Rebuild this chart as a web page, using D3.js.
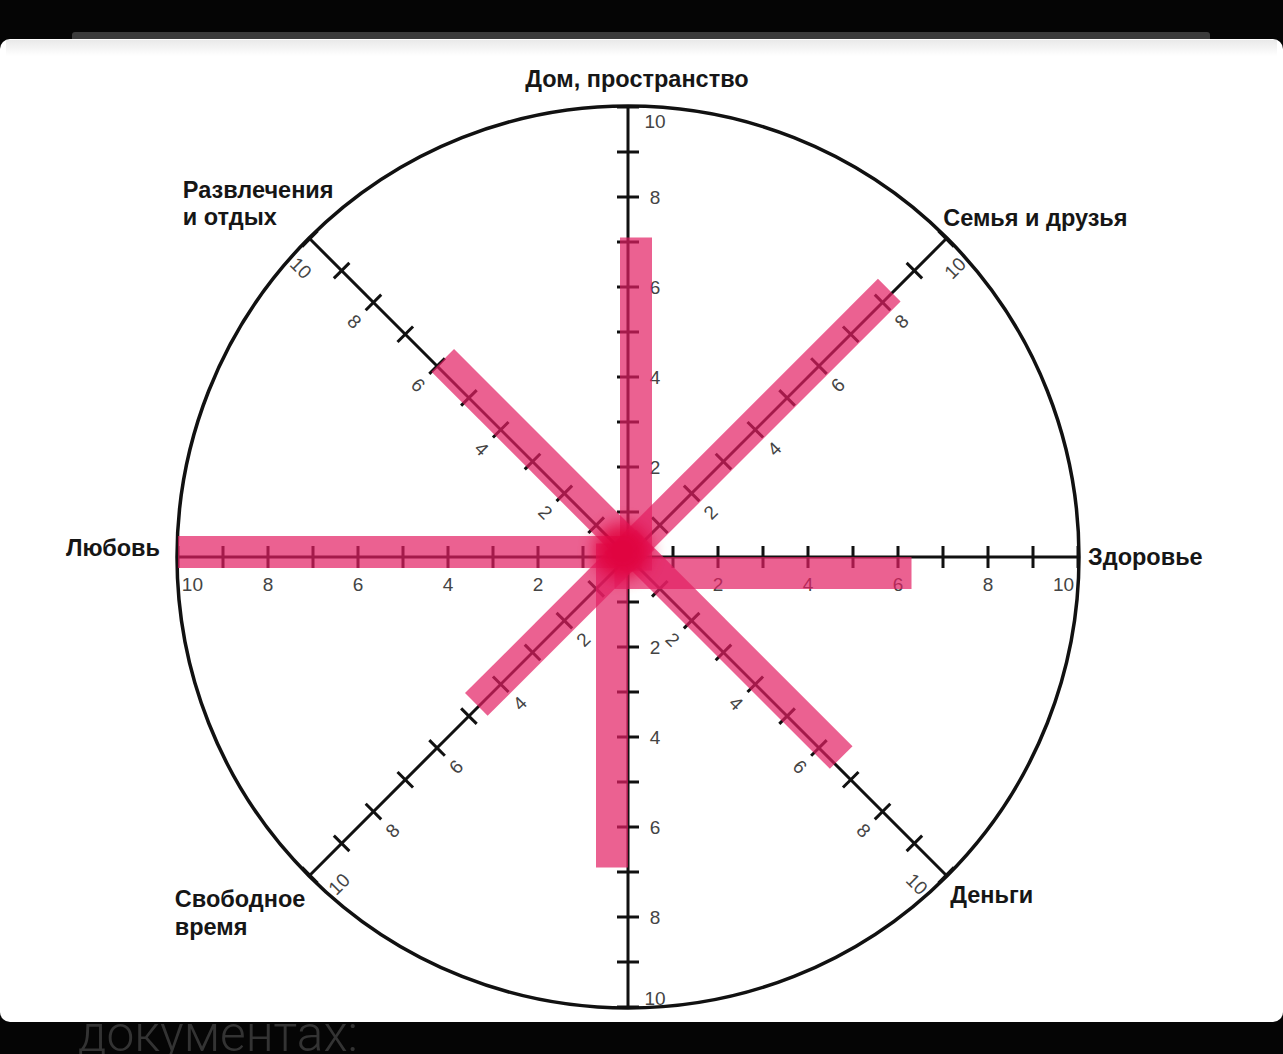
<!DOCTYPE html>
<html><head><meta charset="utf-8">
<script src="https://cdn.jsdelivr.net/npm/d3@7/dist/d3.min.js"></script>
<style>html,body{margin:0;padding:0;background:#000;overflow:hidden}</style>
</head><body>
<svg id="chart" width="1283" height="1054"></svg>
<script>
// ---- data ----
const categories = ["Дом, пространство", "Семья и друзья", "Здоровье", "Деньги", "", "Свободное\nвремя", "Любовь", "Развлечения\nи отдых"];
const values = [7.1, 8.3, 6.3, 6.5, 6.9, 4.7, 10, 6.0];
const tickLabels = ["2", "4", "6", "8", "10"];
const footerText = "документах:";

// ---- layout ----
const W = 1283, H = 1054, cx = 628, cy = 557;
const svg = d3.select("#chart");
const r = d3.scaleLinear().domain([0, 10]).range([0, 450]);
const angle = d3.scaleLinear().domain([0, categories.length]).range([0, 2 * Math.PI]);

function pt(i, v, off) {
  const a = angle(i), ux = Math.sin(a), uy = -Math.cos(a);
  const px = -uy, py = ux;
  off = off || 0;
  return [cx + ux * r(v) + px * off, cy + uy * r(v) + py * off];
}

// background card
const defs = svg.append("defs");
const g1 = defs.append("linearGradient").attr("id", "topShade").attr("x1", 0).attr("x2", 0).attr("y1", 0).attr("y2", 1);
g1.append("stop").attr("offset", 0).attr("stop-color", "#e9e9e9");
g1.append("stop").attr("offset", 1).attr("stop-color", "#ffffff");
defs.append("filter").attr("id", "blur").attr("x", "-100%").attr("y", "-100%").attr("width", "300%").attr("height", "300%")
  .append("feGaussianBlur").attr("stdDeviation", 8);

svg.append("rect").attr("x", 0).attr("y", 0).attr("width", W).attr("height", H).attr("fill", "#050505");
svg.append("rect").attr("x", 72).attr("y", 32).attr("width", 1138).attr("height", 12).attr("rx", 3).attr("fill", "#3b3b3b");
svg.append("rect").attr("x", 0).attr("y", 39).attr("width", W).attr("height", 983).attr("rx", 10).attr("fill", "#ffffff");
svg.append("rect").attr("x", 6).attr("y", 40).attr("width", W - 12).attr("height", 16).attr("fill", "url(#topShade)");

svg.append("text").attr("x", 78).attr("y", 1051).text(footerText)
  .attr("font-family", "Roboto, 'Liberation Sans', sans-serif").attr("font-weight", 300)
  .attr("font-size", 50).attr("fill", "#333333")
  .attr("textLength", 280).attr("lengthAdjust", "spacingAndGlyphs");

const chart = svg.append("g");

// outer circle
chart.append("circle").attr("cx", cx).attr("cy", cy).attr("r", r(10) + 1)
  .attr("fill", "none").attr("stroke", "#111").attr("stroke-width", 3.5);

// axes
const idx = d3.range(categories.length);
chart.selectAll("line.axis").data(idx).join("line").attr("class", "axis")
  .attr("x1", cx).attr("y1", cy)
  .attr("x2", i => pt(i, 10)[0]).attr("y2", i => pt(i, 10)[1])
  .attr("stroke", "#111").attr("stroke-width", 3);

// ticks
const ticks = r.ticks(10).filter(v => v > 0);
const tickData = [];
idx.forEach(i => ticks.forEach(v => tickData.push({ i, v })));
chart.selectAll("line.tick").data(tickData).join("line").attr("class", "tick")
  .attr("x1", d => pt(d.i, d.v, -11)[0]).attr("y1", d => pt(d.i, d.v, -11)[1])
  .attr("x2", d => pt(d.i, d.v, 11)[0]).attr("y2", d => pt(d.i, d.v, 11)[1])
  .attr("stroke", "#111").attr("stroke-width", 3);

// tick labels
const rot = [0, -45, 0, 45, 0, -45, 0, 45];
const labData = [];
idx.forEach(i => tickLabels.forEach(t => labData.push({ i, t, v: +t })));
chart.selectAll("text.tl").data(labData).join("text").attr("class", "tl")
  .attr("transform", d => {
    const side = d.i < 4 ? 1 : -1;
    const p = pt(d.i, d.v === 10 ? (d.i === 4 ? 9.8 : 9.68) : d.v, side * 27);
    return `translate(${p[0]},${p[1]}) rotate(${rot[d.i]})`;
  })
  .attr("text-anchor", "middle").attr("dominant-baseline", "central")
  .attr("font-family", "'Liberation Sans', Arial, sans-serif").attr("font-size", 19)
  .attr("fill", "#444").text(d => d.t);

// category labels
const labPos = [
  { dx: 9, dy: -28, anchor: "middle" },
  { dx: -3, dy: -21, anchor: "start" },
  { dx: 10, dy: 0, anchor: "start" },
  { dx: 4, dy: 20, anchor: "start" },
  { dx: 0, dy: 30, anchor: "middle" },
  { dx: -135, dy: 24, anchor: "start" },
  { dx: -18, dy: -9, anchor: "end" },
  { dx: -127, dy: -49, anchor: "start" }
];
idx.forEach(i => {
  if (!categories[i]) return;
  const e = pt(i, 10), lp = labPos[i];
  const lines = categories[i].split("\n");
  const t = chart.append("text")
    .attr("font-family", "'Liberation Sans', Arial, sans-serif").attr("font-weight", "bold")
    .attr("font-size", 23.5).attr("fill", "#161616").attr("text-anchor", lp.anchor);
  lines.forEach((ln, k) => {
    t.append("tspan").attr("x", e[0] + lp.dx).attr("y", e[1] + lp.dy + k * 27.5)
      .attr("dominant-baseline", "central").text(ln);
  });
});

// pink marker strokes
const offs = [8, -4, 16, -9, 16, 3, 5, 8];
const pink = chart.append("g");
idx.forEach(i => {
  const a = pt(i, -0.3, offs[i]), b = pt(i, values[i], offs[i]);
  pink.append("line").attr("x1", a[0]).attr("y1", a[1]).attr("x2", b[0]).attr("y2", b[1])
    .attr("stroke", "#e31e62").attr("stroke-opacity", 0.7).attr("stroke-width", 32)
    .attr("stroke-linecap", "butt");
});
pink.append("circle").attr("cx", cx - 6).attr("cy", cy - 6).attr("r", 28)
  .attr("fill", "#e0003a").attr("opacity", 0.85).attr("filter", "url(#blur)");
</script>
</body></html>
